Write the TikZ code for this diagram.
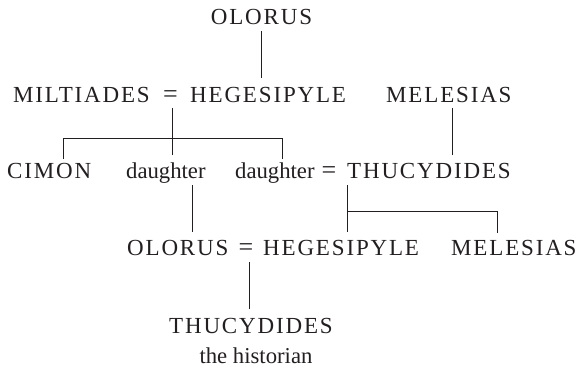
\documentclass[tikz,border=0pt]{standalone}
\usepackage{fontspec}
\setmainfont{Liberation Serif}
\newfontfamily\capsface[LetterSpace=8]{Liberation Serif}
\definecolor{ink}{HTML}{231F20}
\tikzset{
  person/.style={inner sep=0pt, text height=15pt, text depth=0pt, anchor=base west,
    text=ink, font=\capsface\fontsize{23}{27}\selectfont},
  lower/.style={inner sep=0pt, text height=15pt, text depth=0pt, anchor=base west,
    text=ink, font=\fontsize{22.7}{27}\selectfont},
  eqsign/.style={inner sep=0pt, text height=15pt, text depth=0pt, anchor=base,
    text=ink, font=\fontsize{26}{30}\selectfont},
  link/.style={draw=ink, line width=0.8pt}
}
\begin{document}
\begin{tikzpicture}[x=1pt, y=-1pt]
\useasboundingbox (0,0) rectangle (577,368);

% first generation
\node[person, anchor=base] (olorusA) at (261.5,24) {OLORUS};

% second generation
\node[person] (miltiades) at (13,102) {MILTIADES};
\node[eqsign] (eqA) at (170.5,102) {=};
\node[person] (hegesipyleA) at (190,102) {HEGESIPYLE};
\node[person] (melesiasA) at (386,102) {MELESIAS};

% third generation
\node[person] (cimon) at (7,178) {CIMON};
\node[lower] (daughterA) at (126,178) {daughter};
\node[lower] (daughterB) at (235,178) {daughter};
\node[eqsign] (eqB) at (329,178) {=};
\node[person] (thucydidesA) at (347,178) {THUCYDIDES};

% fourth generation
\node[person] (olorusB) at (127,255) {OLORUS};
\node[eqsign] (eqC) at (246,255) {=};
\node[person] (hegesipyleB) at (263,255) {HEGESIPYLE};
\node[person] (melesiasB) at (451,255) {MELESIAS};

% the historian
\node[person] (thucydidesB) at (169,333) {THUCYDIDES};
\node[lower, anchor=base] (historian) at (256,363) {the historian};

% junction points of the connectors
\coordinate (kA) at (261,0);
\coordinate (kB) at (172,138);
\coordinate (kBl) at (63,138);
\coordinate (kBr) at (282,138);
\coordinate (kC) at (452,0);
\coordinate (kD) at (192,0);
\coordinate (kE) at (347,211);
\coordinate (kEr) at (497,211);
\coordinate (kF) at (249,0);

% OLORUS -> HEGESIPYLE
\draw[link] ([yshift=-7pt]kA |- olorusA.south) -- ([yshift=9pt]kA |- hegesipyleA.north);
% MILTIADES = HEGESIPYLE -> children
\draw[link] ([yshift=-6pt]kB |- eqA.south) -- ([yshift=8pt]kB |- daughterA.north);
\draw[link] ([yshift=4pt]kBl |- cimon.north) -- (kBl) -- (kBr) -- ([yshift=4pt]kBr |- daughterB.north);
% MELESIAS -> THUCYDIDES
\draw[link] ([yshift=-6pt]kC |- melesiasA.south) -- ([yshift=8pt]kC |- thucydidesA.north);
% daughter -> OLORUS
\draw[link] ([yshift=-7pt]kD |- daughterA.south) -- ([yshift=8pt]kD |- olorusB.north);
% daughter = THUCYDIDES -> HEGESIPYLE, MELESIAS
\draw[link] ([yshift=-7pt]kE |- thucydidesA.south) -- ([yshift=8pt]kE |- hegesipyleB.north);
\draw[link] (kE) -- (kEr) -- ([yshift=7pt]kEr |- melesiasB.north);
% OLORUS = HEGESIPYLE -> THUCYDIDES
\draw[link] ([yshift=-7pt]kF |- eqC.south) -- ([yshift=9pt]kF |- thucydidesB.north);
\end{tikzpicture}
\end{document}
